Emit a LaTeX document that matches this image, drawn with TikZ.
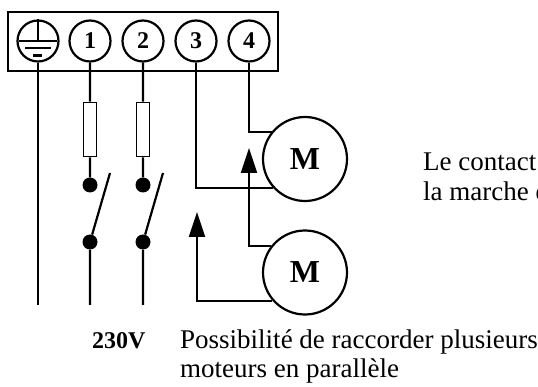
\documentclass[tikz,border=0pt]{standalone}
\usepackage{fontspec}
\setmainfont{Liberation Serif}
\usetikzlibrary{arrows.meta}
\tikzset{>={Triangle[width=16pt,length=25pt]}}
\tikzset{
    wire/.style={line width=2.2pt},
    term/.style={draw, circle, line width=2.2pt, minimum size=41pt, inner sep=0pt,
        font=\fontsize{24}{24}\selectfont\bfseries},
    motor/.style={draw, circle, line width=2.2pt, minimum size=84pt, inner sep=0pt,
        font=\fontsize{32}{32}\selectfont\bfseries},
    fuse/.style={draw, rectangle, line width=1.6pt, minimum width=13pt,
        minimum height=54pt, inner sep=0pt},
    dot/.style={circle, fill, minimum size=15pt, inner sep=0pt},
    txt/.style={anchor=base west, inner sep=0pt, font=\fontsize{27}{31}\selectfont}
}

\begin{document}
\begin{tikzpicture}[x=1pt, y=-1pt]
    \useasboundingbox (0,0) rectangle (538,387);
    \clip (0,0) rectangle (538,387);
   %\draw[help lines] (0,0) grid[step=10] (538,387);
    % bornier
    \draw[wire] (8,12) rectangle (278,71);
    \node (t0) at (38,41) [term] {};
    \node (t1) at (90,41) [term] {1};
    \node (t2) at (143,41) [term] {2};
    \node (t3) at (196,41) [term] {3};
    \node (t4) at (249,41) [term] {4};
    % terre
    \draw[wire] (t0.north) -- (t0.center);
    \draw[wire] (19,41) -- (57,41) (25,48) -- (51,48);
    \draw[line width=3pt] (33,56) -- (42,56);
    \coordinate (g0) at (38,305);
    \draw[wire] (t0.south) -- (g0);
    % phase 1
    \node (f1) at (90,129.5) [fuse] {};
    \node (a1) at (90,185) [dot] {};
    \node (b1) at (90,242) [dot] {};
    \coordinate (k1) at (110,173);
    \coordinate (e1) at (90,305);
    \draw[wire] (t1.south) -- (f1.north) (f1.south) -- (a1) (b1) -- (e1) (b1) -- (k1);
    % phase 2
    \node (f2) at (143,129.5) [fuse] {};
    \node (a2) at (143,185) [dot] {};
    \node (b2) at (143,242) [dot] {};
    \coordinate (k2) at (163,173);
    \coordinate (e2) at (143,305);
    \draw[wire] (t2.south) -- (f2.north) (f2.south) -- (a2) (b2) -- (e2) (b2) -- (k2);
    % moteurs
    \node (m1) at (305,159) [motor] {M};
    \node (m2) at (305,272.5) [motor] {M};
    \draw[wire] (t3.south) |- (m1.222);
    \draw[wire] (t4.south) |- (m1.141);
    \coordinate (p1) at (249,148);
    \coordinate (p2) at (197,212);
    \draw[wire, ->] (m2.142) -| (p1);
    \draw[wire, ->] (m2.221) -| (p2);
    % textes
    \node (v) at (92,348) [txt, font=\fontsize{24}{24}\selectfont\bfseries] {230V};
    \node (n1) at (180,348) [txt] {Possibilité de raccorder plusieurs};
    \node (n2) at (180,377) [txt] {moteurs en parallèle};
    \node (c1) at (423,171) [txt] {Le contact};
    \node (c2) at (423,201) [txt] {la marche d};
\end{tikzpicture}
\end{document}
